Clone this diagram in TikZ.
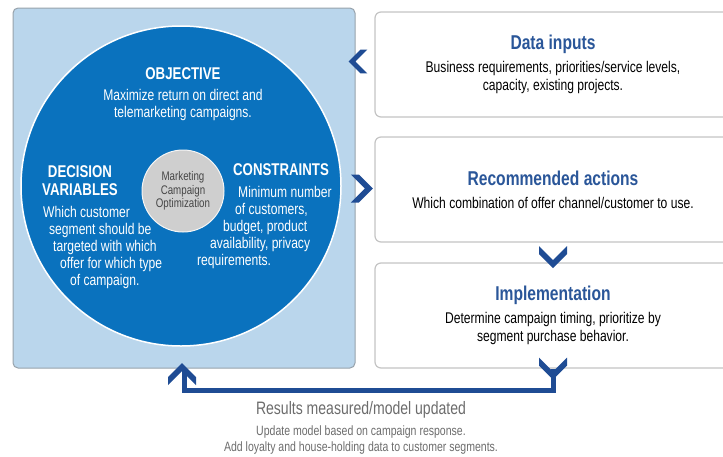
\documentclass[tikz,border=0pt]{standalone}
\usepackage{fontspec}
\setmainfont{Liberation Sans}[FakeStretch=0.78]
\usetikzlibrary{calc}
\definecolor{panelblue}{HTML}{BAD6EC}
\definecolor{ringblue}{HTML}{0A72BE}
\definecolor{navy}{HTML}{1F4C94}
\definecolor{headblue}{HTML}{2A5699}
\definecolor{coregray}{HTML}{CFCFCF}
\definecolor{framegray}{HTML}{C4C4C4}
\newcommand\boxhead[1]{{\fontsize{20}{22}\selectfont\bfseries\color{headblue}#1}}
\tikzset{chevron/.pic={\fill[navy] (-11,-14) -- (-3,-14) -- (11,0) -- (-3,14) -- (-11,14) -- (3,0) -- cycle;}}

\begin{document}
\begin{tikzpicture}[x=1pt,y=-1pt,
  panel/.style={draw=gray!60!panelblue,fill=panelblue,line width=1pt,rounded corners=5pt,minimum width=342pt,minimum height=360pt},
  ring/.style={circle,draw=white,line width=1.5pt,fill=ringblue,minimum size=320pt},
  core/.style={circle,draw=white!80!coregray,line width=1pt,fill=coregray,minimum size=82pt,inner sep=0pt,
    text=gray!55!black,font=\fontsize{12.5}{13.5}\selectfont,align=center},
  ringhead/.style={text=white,font=\fontsize{17}{18}\selectfont\bfseries,align=center},
  ringtext/.style={text=white,font=\fontsize{15.5}{17}\selectfont,align=center},
  infobox/.style={draw=framegray,line width=1.2pt,fill=white,rounded corners=6pt,minimum width=356pt,minimum height=105pt,
    align=center,font=\fontsize{15.5}{18}\selectfont},
  loopline/.style={draw=navy,line width=5pt},
  restext/.style={text=gray!85!black,align=center}]
\useasboundingbox (0,0) rectangle (723,456);

% left panel with the optimization wheel
\node[panel] (panel) at (184,188) {};
\node[ring] (wheel) at (181,186) {};
\node[core] (core) at (183,191) {Marketing\\Campaign\\Optimization};
\node[ringhead] (objhead) at (183,74) {OBJECTIVE};
\node[ringtext] (objtext) at (183,104.5) {Maximize return on direct and\\telemarketing campaigns.};
\node[ringhead] (dechead) at (80,181) {DECISION\\VARIABLES};
% lines follow the edge of the wheel
\node[ringtext,align=left,anchor=west,inner sep=0pt] (dectext) at (43,247) {Which customer\\\hspace*{6pt}segment should be\\\hspace*{10pt}targeted with which\\\hspace*{17pt}offer for which type\\\hspace*{27pt}of campaign.};
\node[ringhead] (conhead) at (281,170) {CONSTRAINTS};
\node[ringtext,align=left,anchor=west,inner sep=0pt] (context) at (197,227) {\hspace*{41pt}Minimum number\\\hspace*{38pt}of customers,\\\hspace*{26pt}budget, product\\\hspace*{13pt}availability, privacy\\requirements.};

% process boxes
\node[infobox] (inputs) at (553,64.5) {\boxhead{Data inputs}\\[5pt]Business requirements, priorities/service levels,\\capacity, existing projects.};
\node[infobox] (actions) at (553,189.5) {\boxhead{Recommended actions}\\[5pt]Which combination of offer channel/customer to use.};
\node[infobox] (impl) at (553,315.5) {\boxhead{Implementation}\\[5pt]Determine campaign timing, prioritize by\\segment purchase behavior.};

% chevrons and feedback loop
\pic[rotate=180,scale=0.85] at ($($(panel.east |- inputs)!0.5!(inputs.west)$)+(-7,-3)$) {chevron};
\pic at ($($(panel.east |- actions)!0.5!(actions.west)$)+(-3,-1)$) {chevron};
\pic[rotate=-90] at ($($(actions.south)!0.5!(impl.north)$)+(0,4.5)$) {chevron};
\draw[loopline] (impl.south) -- ++(0,22) -| (panel.south);
\pic[rotate=-90] at (impl.south) {chevron};
\pic[rotate=90] at ($(panel.south)+(-2,5.5)$) {chevron};

\node[restext,font=\fontsize{18}{20}\selectfont] (results) at (361,410) {Results measured/model updated};
\node[restext,font=\fontsize{13.5}{17}\selectfont] (resnote) at (361,440) {Update model based on campaign response.\\Add loyalty and house-holding data to customer segments.};
\end{tikzpicture}
\end{document}
